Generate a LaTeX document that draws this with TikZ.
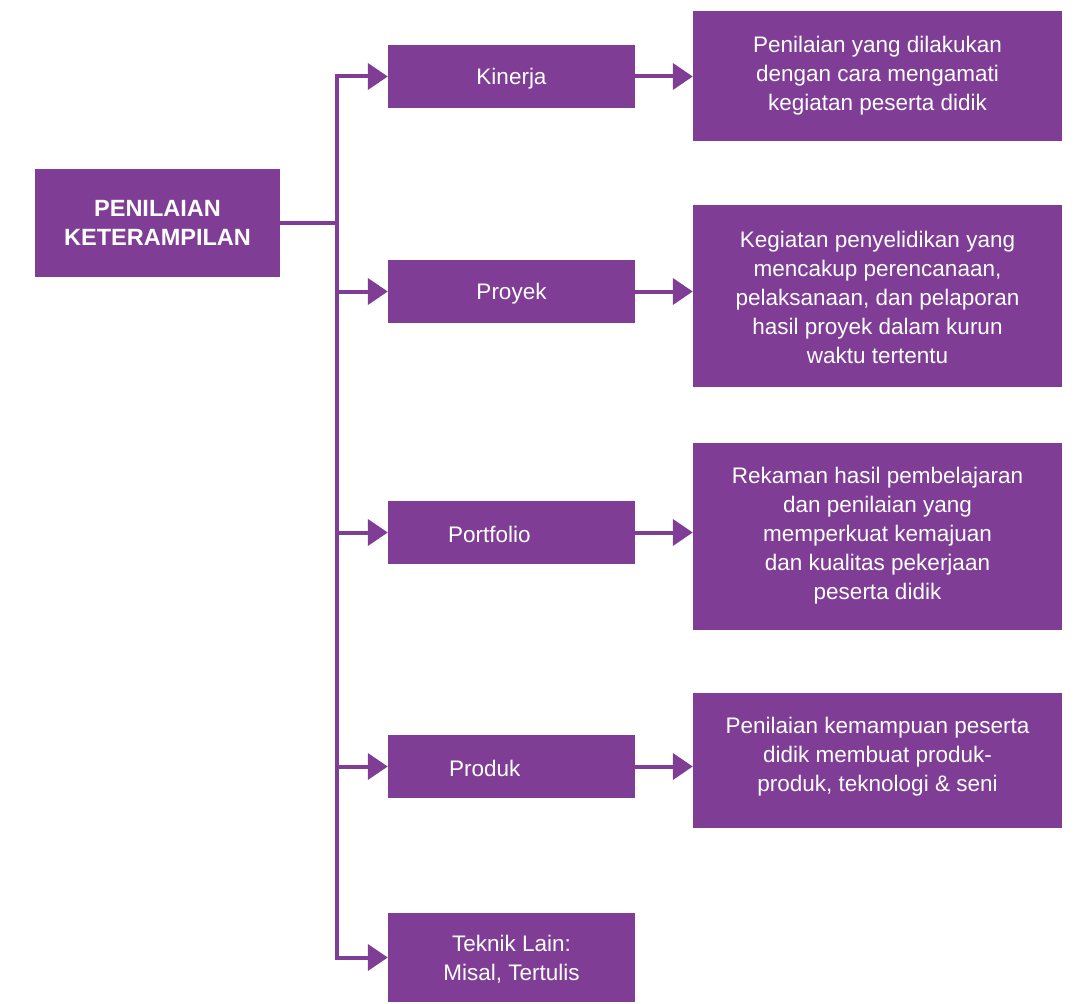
\documentclass[tikz,border=0pt]{standalone}
\usepackage{fontspec}
\setmainfont{Liberation Sans}
\usetikzlibrary{arrows.meta}
\definecolor{pur}{RGB}{127,61,150}
\begin{document}
\begin{tikzpicture}[x=1pt,y=-1pt,
  box/.style={fill=pur,draw=none,text=white,inner sep=0pt,align=center,
    font=\fontsize{22.5}{29}\selectfont},
  mid/.style={box,minimum width=247pt,minimum height=63pt},
  rbox/.style={box,minimum width=369pt},
  lbl/.style={text=white,inner sep=0pt,align=center,font=\fontsize{22.5}{29}\selectfont},
  conn/.style={draw=pur,line width=4pt,line join=miter,
    -{Triangle[length=20pt,width=26pt]}}]
\useasboundingbox (0,0) rectangle (1075,1003);
\node[box,minimum width=245pt,minimum height=108pt,font=\bfseries\fontsize{23.5}{29}\selectfont] (main) at (157.5,223) {PENILAIAN\\KETERAMPILAN};
\node[mid] (kin) at (511.5,76.5) {};
\node[mid] (pro) at (511.5,291.5) {};
\node[mid] (por) at (511.5,532.5) {};
\node[mid] (prd) at (511.5,766.5) {};
\node[mid,minimum height=89pt] (tek) at (511.5,957.5) {};
\node[lbl] (kint) at (511.5,79) {Kinerja};
\node[lbl] (prot) at (511.5,294) {Proyek};
\node[lbl,anchor=west] (port) at (448,534) {Portfolio};
\node[lbl,anchor=west] (prdt) at (449,768) {Produk};
\node[lbl] (tekt) at (511.5,959) {Teknik Lain:\\Misal, Tertulis};
\node[rbox,minimum height=130pt] (r1) at (877.5,76) {};
\node[lbl] (t1) at (877.5,76) {Penilaian yang dilakukan\\dengan cara mengamati\\kegiatan peserta didik};
\node[rbox,minimum height=182pt] (r2) at (877.5,296) {};
\node[lbl] (t2) at (877.5,297.5) {Kegiatan penyelidikan yang\\mencakup perencanaan,\\pelaksanaan, dan pelaporan\\hasil proyek dalam kurun\\waktu tertentu};
\node[rbox,minimum height=187pt] (r3) at (877.5,536.5) {};
\node[lbl] (t3) at (877.5,536) {Rekaman hasil pembelajaran\\dan penilaian yang\\memperkuat kemajuan\\dan kualitas pekerjaan\\peserta didik};
\node[rbox,minimum height=135pt] (r4) at (877.5,760.5) {};
\node[lbl] (t4) at (877.5,757) {Penilaian kemampuan peserta\\didik membuat produk-\\produk, teknologi \& seni};
\coordinate (trunk) at (337,223);
\draw[draw=pur,line width=4pt] (main.east) -- (trunk);
\foreach \t in {kin,pro,por,prd,tek} \draw[conn] (trunk) |- (\t.west);
\draw[conn] (kin.east) -- (r1.west |- kin.east);
\draw[conn] (pro.east) -- (r2.west |- pro.east);
\draw[conn] (por.east) -- (r3.west |- por.east);
\draw[conn] (prd.east) -- (r4.west |- prd.east);
\end{tikzpicture}
\end{document}
